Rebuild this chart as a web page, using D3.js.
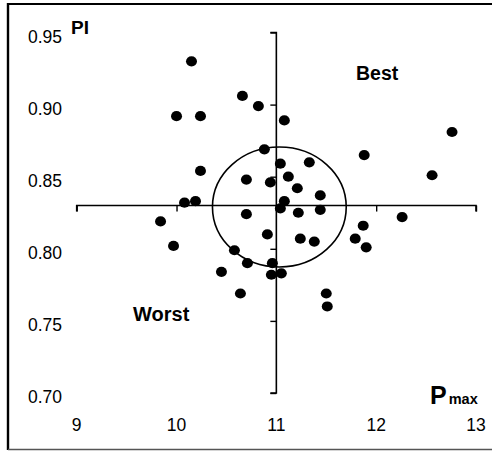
<!DOCTYPE html>
<html>
<head>
<meta charset="utf-8">
<script src="https://cdn.jsdelivr.net/npm/d3@7"></script>
<style>
  html, body { margin: 0; padding: 0; background: #fff; }
  svg { display: block; font-family: "Liberation Sans", Arial, sans-serif; }
</style>
</head>
<body>
<svg id="chart" width="492" height="452"></svg>
<script>
// Pmax values of each sample
const pmax = [
  10.15, 10.00, 10.24, 10.66, 10.82, 11.08, 10.24, 10.70, 10.08, 10.19,
  10.70, 9.84, 10.88, 11.04, 11.33, 10.94, 11.12, 11.21, 11.44, 11.08,
  11.04, 11.22, 11.44, 11.88, 12.56, 12.76, 12.26, 11.87, 9.97, 10.58,
  10.71, 10.45, 10.64, 10.91, 11.24, 11.38, 10.96, 10.95, 11.05, 11.79,
  11.90, 11.50, 11.51
];
// PI values of each sample
const pi = [
  0.930, 0.892, 0.892, 0.906, 0.899, 0.889, 0.854, 0.848, 0.832, 0.833,
  0.824, 0.819, 0.869, 0.859, 0.860, 0.846, 0.850, 0.842, 0.837, 0.833,
  0.828, 0.825, 0.827, 0.865, 0.851, 0.881, 0.822, 0.816, 0.802, 0.799,
  0.790, 0.784, 0.769, 0.810, 0.807, 0.805, 0.790, 0.782, 0.783, 0.807,
  0.801, 0.769, 0.760
];
const xTicks = [9, 10, 11, 12, 13];
const yTicks = [0.70, 0.75, 0.80, 0.85, 0.90, 0.95];
// axes cross at the reference point
const crossX = [11];
const crossY = [0.83];
// target zone around the reference point: [centre Pmax, centre PI, half-width Pmax, half-height PI]
const zone = [11.03, 0.829, 0.67, 0.0416];

const svg = d3.select("#chart");

// outer frame
svg.append("line").attr("x1", 8).attr("x2", 492).attr("y1", 4).attr("y2", 4)
  .attr("stroke", "#000").attr("stroke-width", 2);
svg.append("line").attr("x1", 8).attr("x2", 8).attr("y1", 3).attr("y2", 450)
  .attr("stroke", "#000").attr("stroke-width", 2.4);
svg.append("line").attr("x1", 8).attr("x2", 492).attr("y1", 449.5).attr("y2", 449.5)
  .attr("stroke", "#555").attr("stroke-width", 1.5);

const x = d3.scaleLinear().domain([9, 13]).range([76.7, 476]);
const y = d3.scaleLinear().domain([0.70, 0.95]).range([393, 32.5]);

// horizontal axis through PI = 0.83, ticks below
const xAxis = d3.axisBottom(x).tickValues(xTicks).tickSize(6).tickFormat("");
const gx = svg.append("g").attr("transform", `translate(0,${y(crossY[0])})`).call(xAxis);
gx.select(".domain").attr("d", `M${x(9)},6V0H${x(13)}V6`);

// vertical axis through Pmax = 11, ticks to the left
const yAxis = d3.axisLeft(y).tickValues(yTicks).tickSize(6).tickFormat("");
const gy = svg.append("g").attr("transform", `translate(${x(crossX[0])},0)`).call(yAxis);
gy.select(".domain").attr("d", `M-6,${y(0.95)}H0V${y(0.70)}H-6`);

[gx, gy].forEach(g => {
  g.selectAll(".domain").attr("stroke", "#000").attr("stroke-width", 1.6).attr("fill", "none");
  g.selectAll(".tick line").attr("stroke", "#000").attr("stroke-width", 1.4);
});

// tick labels along the frame edges
svg.append("g").selectAll("text").data(yTicks).join("text")
  .attr("x", 62).attr("y", d => y(d) + 10)
  .attr("text-anchor", "end")
  .attr("font-size", 17.5)
  .text(d => d.toFixed(2));

svg.append("g").selectAll("text").data(xTicks).join("text")
  .attr("x", d => x(d)).attr("y", 431)
  .attr("text-anchor", "middle")
  .attr("font-size", 17.5)
  .text(d => d);

// target ellipse
svg.append("ellipse")
  .attr("cx", x(zone[0])).attr("cy", y(zone[1]))
  .attr("rx", x(zone[0] + zone[2]) - x(zone[0]))
  .attr("ry", y(zone[1] - zone[3]) - y(zone[1]))
  .attr("fill", "none").attr("stroke", "#000").attr("stroke-width", 1.6);

// samples
svg.append("g").selectAll("ellipse").data(pmax).join("ellipse")
  .attr("cx", (d, i) => x(d))
  .attr("cy", (d, i) => y(pi[i]))
  .attr("rx", 5.5).attr("ry", 5.1)
  .attr("fill", "#000");

// labels
svg.append("text").attr("x", 71).attr("y", 34)
  .attr("font-size", 19).attr("font-weight", "bold").text("PI");
svg.append("text").attr("x", 356).attr("y", 80)
  .attr("font-size", 19.5).attr("font-weight", "bold").text("Best");
svg.append("text").attr("x", 133).attr("y", 321)
  .attr("font-size", 20).attr("font-weight", "bold").text("Worst");
const pm = svg.append("text").attr("x", 430).attr("y", 404).attr("font-weight", "bold");
pm.append("tspan").attr("font-size", 25).text("P");
pm.append("tspan").attr("font-size", 14.5).attr("dx", 2).text("max");
</script>
</body>
</html>
